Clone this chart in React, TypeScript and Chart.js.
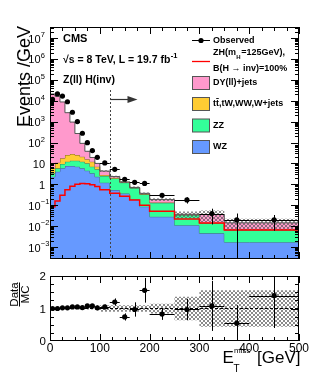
import React, { useEffect, useRef } from "react";
import { Chart, registerables } from "chart.js";
Chart.register(...registerables);

// ---------------- data ----------------
const binEdges = [0, 10, 20, 30, 40, 50, 60, 70, 80, 90, 100, 120, 140, 160, 180, 200, 250, 300, 350, 400, 500];
const wzValues = [0.78, 2.3, 4.0, 5.8, 7.5, 7.5, 7.0, 5.8, 4.5, 3.35, 2.3, 1.2, 0.53, 0.36, 0.19, 0.085, 0.028, 0.011, 0.0045, 0.0017];
const zzValues = [0.34, 1.05, 1.8, 3.6, 4.6, 6.0, 6.5, 6.3, 5.6, 3.65, 2.9, 1.3, 1.37, 0.84, 0.47, 0.245, 0.102, 0.023, 0.0095, 0.0048];
const topValues = [0.83, 2.45, 5.1, 8.1, 12.9, 14.5, 11.5, 8.9, 5.6, 5.1, 1.8, 0.3, 0.15, 0.05, 0.03, 0.015, 0.005, 0.001, 0.0005, 0.0003];
const dyValues = [11498, 20994, 16389, 8683, 2645, 922, 245, 70, 22.3, 7.1, 3.0, 1.5, 0.31, 0.04, 0.02, 0.025, 0.051, 0.002, 0.0215, 0.0075];
const signalValues = [0.03, 0.085, 0.16, 0.3, 0.55, 0.8, 1.0, 1.1, 1.05, 0.95, 0.78, 0.55, 0.37, 0.27, 0.18, 0.10, 0.052, 0.022, 0.014, 0.0065];
const observedValues = [11500, 21000, 16700, 8900, 2800, 1000, 277, 98, 41, 19.6, 10.5, 5.2, 1.75, 1.25, 1.1, 0.3, 0.18, 0.04, 0.02, 0.02];
const observedErrors = [34, 46, 41, 30, 17, 10, 5.3, 3.1, 2.0, 1.4, 0.72, 0.51, 0.3, 0.25, 0.23, 0.077, 0.06, 0.028, 0.02, 0.014];
const ratioValues = [1.0, 1.0, 1.02, 1.02, 1.05, 1.05, 1.03, 1.08, 1.08, 1.02, 1.05, 1.2, 0.74, 0.97, 1.56, 0.83, 0.97, 1.08, 0.55, 1.4];
const ratioErrors = [0.01, 0.01, 0.01, 0.01, 0.01, 0.01, 0.02, 0.03, 0.05, 0.07, 0.07, 0.11, 0.11, 0.22, 0.38, 0.18, 0.33, 0.77, 0.55, 1.0];
const mcRelUncertainty = [0.01, 0.01, 0.01, 0.01, 0.01, 0.01, 0.02, 0.02, 0.03, 0.03, 0.05, 0.1, 0.1, 0.1, 0.1, 0.1, 0.15, 0.36, 0.56, 0.56];
const yDecades = [-3, -2, -1, 0, 1, 2, 3, 4, 5, 6, 7];
const xTickLabels = [0, 100, 200, 300, 400, 500];
const ratioTickLabels = [0, 1, 2];
const selectionCut = 120;

// ---------------- style ----------------
const FONT = '"Liberation Sans", Arial, Helvetica, sans-serif';
const WZ_COLOR = "#6699ff";
const ZZ_COLOR = "#33ff99";
const TOP_COLOR = "#ffcc33";
const DY_COLOR = "#ff99cc";
const WZ_LINE = "#46608f";
const ZZ_LINE = "#3f7a5e";
const TOP_LINE = "#8a6d2a";
const DY_LINE = "#555555";

const nBins = binEdges.length - 1;
const binCenters = binEdges.slice(0, nBins).map((e, i) => (e + binEdges[i + 1]) / 2);

function cumulative(arrs: number[][]) {
  return arrs[0].map((_, i) => arrs.reduce((s, a) => s + a[i], 0));
}
function stepPoints(values: number[]) {
  const pts = values.map((v, i) => ({ x: binEdges[i], y: v }));
  pts.push({ x: binEdges[nBins], y: values[nBins - 1] });
  return pts;
}

const cumWZ = wzValues;
const cumZZ = cumulative([wzValues, zzValues]);
const cumTop = cumulative([wzValues, zzValues, topValues]);
const cumTotal = cumulative([wzValues, zzValues, topValues, dyValues]);
const bandHi = cumTotal.map((t, i) => t * (1 + mcRelUncertainty[i]));
const bandLo = cumTotal.map((t, i) => t * (1 - mcRelUncertainty[i]));
const ratioBandHi = mcRelUncertainty.map((u) => 1 + u);
const ratioBandLo = mcRelUncertainty.map((u) => 1 - u);

function makeHatch(): CanvasPattern | string {
  const c = document.createElement("canvas");
  c.width = 4;
  c.height = 4;
  const g = c.getContext("2d");
  if (!g) return "rgba(120,120,120,0.5)";
  g.fillStyle = "rgba(90,90,90,0.7)";
  const px = [[0, 0], [1, 1], [2, 2], [3, 3], [3, 0], [2, 1], [1, 2], [0, 3]];
  px.forEach(([x, y]) => g.fillRect(x, y, 1, 1));
  const p = g.createPattern(c, "repeat");
  return p || "rgba(120,120,120,0.5)";
}

function line(ctx: CanvasRenderingContext2D, x1: number, y1: number, x2: number, y2: number) {
  ctx.beginPath();
  ctx.moveTo(x1, y1);
  ctx.lineTo(x2, y2);
  ctx.stroke();
}

function drawFrameAndTicks(chart: any, yMajors: number[], yMinors: number[], yMajLen: number, yMinLen: number) {
  const { ctx, chartArea: a, scales } = chart;
  const xs = scales.x;
  const ys = scales.y;
  ctx.save();
  ctx.strokeStyle = "#000";
  ctx.lineWidth = 1;
  ctx.strokeRect(a.left + 0.5, a.top + 0.5, a.right - a.left - 1, a.bottom - a.top - 1);
  const yt = (vals: number[], len: number) => {
    vals.forEach((v) => {
      const py = Math.round(ys.getPixelForValue(v)) + 0.5;
      if (py < a.top || py > a.bottom) return;
      line(ctx, a.left, py, a.left + len, py);
      line(ctx, a.right, py, a.right - len, py);
    });
  };
  yt(yMajors, yMajLen);
  yt(yMinors, yMinLen);
  for (let v = 0; v <= 500; v += 25) {
    const px = Math.round(xs.getPixelForValue(v)) + 0.5;
    const len = v % 100 === 0 ? 7 : 4;
    line(ctx, px, a.bottom, px, a.bottom - len);
    line(ctx, px, a.top, px, a.top + len);
  }
  ctx.restore();
}

function errorBarPlugin(id: string, ys: number[], errs: number[]) {
  return {
    id,
    afterDatasetsDraw(chart: any) {
      const { ctx, chartArea: a, scales } = chart;
      const xs = scales.x;
      const ysc = scales.y;
      ctx.save();
      ctx.beginPath();
      ctx.rect(a.left, a.top, a.right - a.left, a.bottom - a.top);
      ctx.clip();
      ctx.strokeStyle = "#000";
      ctx.lineWidth = 1;
      const minV = ysc.min;
      for (let i = 0; i < ys.length; i++) {
        const px = xs.getPixelForValue(binCenters[i]);
        const py = ysc.getPixelForValue(ys[i]);
        const up = ysc.getPixelForValue(ys[i] + errs[i]);
        const lowV = ys[i] - errs[i];
        const low = lowV > minV ? ysc.getPixelForValue(lowV) : a.bottom + 2;
        const cx = Math.round(px) + 0.5;
        line(ctx, cx, up, cx, low);
        const x1 = xs.getPixelForValue(binEdges[i]);
        const x2 = xs.getPixelForValue(binEdges[i + 1]);
        const cy = Math.round(py) + 0.5;
        line(ctx, x1, cy, x2, cy);
      }
      ctx.restore();
    },
  };
}

function mainDecor() {
  return {
    id: "mainDecor",
    afterDraw(chart: any) {
      const { ctx, chartArea: a, scales } = chart;
      const ys = scales.y;
      const xs = scales.x;
      const minors: number[] = [];
      for (let d = -4; d <= 7; d++) for (let m = 2; m <= 9; m++) minors.push(m * Math.pow(10, d));
      drawFrameAndTicks(chart, yDecades.map((d) => Math.pow(10, d)), minors, 8, 4);

      ctx.save();
      ctx.fillStyle = "#000";
      // y tick labels
      yDecades.forEach((d) => {
        const py = ys.getPixelForValue(Math.pow(10, d));
        ctx.textBaseline = "middle";
        if (d === 0 || d === 1) {
          ctx.font = `11px ${FONT}`;
          ctx.textAlign = "right";
          ctx.fillText(d === 0 ? "1" : "10", 45, py + 1.5);
        } else {
          ctx.font = `11px ${FONT}`;
          ctx.textAlign = "right";
          ctx.fillText("10", 40.5, py + 1.5);
          ctx.font = `7.5px ${FONT}`;
          ctx.textAlign = "left";
          ctx.fillText(String(d).replace("-", "\u2212"), 40.8, py - 3);
        }
      });
      // y title
      ctx.save();
      ctx.translate(29.5, 26);
      ctx.rotate(-Math.PI / 2);
      ctx.font = `18px ${FONT}`;
      ctx.textAlign = "right";
      ctx.textBaseline = "alphabetic";
      ctx.fillText("Events /GeV", 0, 0);
      ctx.restore();

      // CMS labels
      ctx.textAlign = "left";
      ctx.textBaseline = "middle";
      ctx.font = `bold 11px ${FONT}`;
      ctx.fillText("CMS", 63, 39);
      ctx.font = `bold 10.5px ${FONT}`;
      const s1 = "\u221As = 8 TeV, L = 19.7 fb";
      ctx.fillText(s1, 63, 60);
      const w1 = ctx.measureText(s1).width;
      ctx.font = `bold 7.5px ${FONT}`;
      ctx.fillText("-1", 63 + w1 + 0.5, 55.5);
      ctx.font = `bold 10.5px ${FONT}`;
      ctx.fillText("Z(ll) H(inv)", 63, 80.5);

      // selection cut line + arrow
      const cx = Math.round(xs.getPixelForValue(selectionCut)) + 0.5;
      ctx.strokeStyle = "#444";
      ctx.lineWidth = 1;
      ctx.setLineDash([2, 2]);
      line(ctx, cx, 90, cx, a.bottom);
      ctx.setLineDash([]);
      ctx.strokeStyle = "#333";
      ctx.lineWidth = 1.2;
      line(ctx, cx, 99.5, cx + 19, 99.5);
      ctx.fillStyle = "#333";
      ctx.beginPath();
      ctx.moveTo(cx + 17, 96);
      ctx.lineTo(cx + 27, 99.5);
      ctx.lineTo(cx + 17, 103);
      ctx.closePath();
      ctx.fill();

      // legend
      const LF = `bold 9px ${FONT}`;
      ctx.fillStyle = "#000";
      const tx = 213;
      ctx.strokeStyle = "#000";
      ctx.lineWidth = 1;
      line(ctx, 192, 40.5, 210, 40.5);
      ctx.beginPath();
      ctx.arc(201, 40.5, 2.6, 0, Math.PI * 2);
      ctx.fill();
      ctx.font = LF;
      ctx.textBaseline = "middle";
      ctx.fillText("Observed", tx, 40.5);

      ctx.strokeStyle = "#ff0000";
      ctx.lineWidth = 1.3;
      line(ctx, 192, 61.5, 210, 61.5);
      ctx.font = LF;
      const zh = "ZH(m";
      ctx.fillText(zh, tx, 52.5);
      const wzh = ctx.measureText(zh).width;
      ctx.font = `bold 6px ${FONT}`;
      ctx.fillText("H", tx + wzh + 0.3, 57.5);
      const wh = ctx.measureText("H").width;
      ctx.font = LF;
      ctx.fillText("=125GeV),", tx + wzh + wh + 0.8, 52.5);
      ctx.fillText("B(H \u2192 inv)=100%", tx, 68.5);

      const boxes: [string, string, number][] = [
        [DY_COLOR, "DY(ll)+jets", 83],
        [TOP_COLOR, "", 104],
        [ZZ_COLOR, "ZZ", 125.5],
        [WZ_COLOR, "WZ", 147],
      ];
      boxes.forEach(([col, label, y]) => {
        ctx.fillStyle = col;
        ctx.fillRect(192, y - 6.5, 18, 13);
        ctx.strokeStyle = "#555";
        ctx.lineWidth = 1;
        ctx.strokeRect(192.5, y - 6.5, 17, 13);
        ctx.fillStyle = "#000";
        ctx.font = LF;
        if (label) ctx.fillText(label, tx, y);
      });
      // ttbar label with bar
      const yTop = 104;
      ctx.fillText("tt", tx, yTop);
      const wt = ctx.measureText("t").width;
      const wtt = ctx.measureText("tt").width;
      ctx.strokeStyle = "#000";
      ctx.lineWidth = 0.9;
      line(ctx, tx + wt + 0.2, yTop - 5.5, tx + wtt - 0.2, yTop - 5.5);
      ctx.fillText(",tW,WW,W+jets", tx + wtt, yTop);
      ctx.restore();
    },
  };
}

function ratioDecor() {
  return {
    id: "ratioDecor",
    afterDraw(chart: any) {
      const { ctx, scales } = chart;
      const ys = scales.y;
      const xs = scales.x;
      const minors: number[] = [];
      for (let v = 0.25; v < 2; v += 0.25) if (Math.abs(v - 1) > 0.01) minors.push(v);
      drawFrameAndTicks(chart, ratioTickLabels, minors, 8, 4);
      ctx.save();
      ctx.fillStyle = "#000";
      ctx.font = `11.5px ${FONT}`;
      ctx.textAlign = "right";
      ctx.textBaseline = "middle";
      ratioTickLabels.forEach((v) => {
        ctx.fillText(String(v), 46, ys.getPixelForValue(v) + 1);
      });
      ctx.font = `12px ${FONT}`;
      ctx.textAlign = "center";
      ctx.textBaseline = "alphabetic";
      xTickLabels.forEach((v) => {
        ctx.fillText(String(v), xs.getPixelForValue(v), 86.5);
      });
      // x title
      ctx.textAlign = "left";
      ctx.font = `17px ${FONT}`;
      ctx.fillText("E", 222.5, 98);
      ctx.font = `8px ${FONT}`;
      ctx.fillText("miss", 234, 88);
      ctx.font = `10px ${FONT}`;
      ctx.fillText("T", 233.5, 106.5);
      ctx.font = `17px ${FONT}`;
      ctx.fillText("[GeV]", 257, 98);
      // y title Data/MC
      ctx.save();
      ctx.translate(0, 29.5);
      ctx.rotate(-Math.PI / 2);
      ctx.font = `11.5px ${FONT}`;
      ctx.textAlign = "center";
      ctx.textBaseline = "alphabetic";
      ctx.fillText("Data", 0, 18);
      ctx.fillText("MC", 0, 28.5);
      ctx.strokeStyle = "#000";
      ctx.lineWidth = 1;
      line(ctx, -12, 19.5, 12, 19.5);
      ctx.restore();
      ctx.restore();
    },
  };
}

function stepDataset(label: string, values: number[], extra: any) {
  return {
    label,
    data: stepPoints(values),
    stepped: "after",
    pointRadius: 0,
    borderWidth: 1,
    ...extra,
  };
}

export default function App() {
  const mainRef = useRef<HTMLCanvasElement>(null);
  const ratioRef = useRef<HTMLCanvasElement>(null);

  useEffect(() => {
    const hatch = makeHatch();
    const common = {
      responsive: false,
      animation: false,
      devicePixelRatio: 1,
      plugins: { legend: { display: false }, tooltip: { enabled: false }, title: { display: false } },
      events: [],
    };
    const main = new Chart(mainRef.current as HTMLCanvasElement, {
      type: "line",
      data: {
        datasets: [
          stepDataset("WZ", cumWZ, { fill: "start", backgroundColor: WZ_COLOR, borderColor: WZ_LINE, order: 10 }),
          stepDataset("ZZ", cumZZ, { fill: 0, backgroundColor: ZZ_COLOR, borderColor: ZZ_LINE, order: 9 }),
          stepDataset("top", cumTop, { fill: 1, backgroundColor: TOP_COLOR, borderColor: TOP_LINE, order: 8 }),
          stepDataset("DY", cumTotal, { fill: 2, backgroundColor: DY_COLOR, borderColor: DY_LINE, order: 7 }),
          stepDataset("bandHi", bandHi, { fill: false, borderWidth: 0, borderColor: "rgba(0,0,0,0)", order: 6 }),
          stepDataset("bandLo", bandLo, { fill: 4, borderWidth: 0, borderColor: "rgba(0,0,0,0)", backgroundColor: hatch, order: 5 }),
          stepDataset("signal", signalValues, { fill: false, borderColor: "#ff0000", borderWidth: 1.5, order: 2 }),
          {
            label: "Observed",
            data: binCenters.map((x, i) => ({ x, y: observedValues[i] })),
            showLine: false,
            pointRadius: 2.6,
            pointBackgroundColor: "#000",
            pointBorderColor: "#000",
            pointBorderWidth: 0,
            order: 0,
          },
        ] as any,
      },
      options: {
        ...common,
        layout: { padding: { left: 50, right: 16, top: 27, bottom: 6 } },
        scales: {
          x: { type: "linear", min: 0, max: 500, display: false },
          y: { type: "logarithmic", min: 2.67e-4, max: 3.36e7, display: false },
        },
      } as any,
      plugins: [errorBarPlugin("mainErr", observedValues, observedErrors), mainDecor()],
    });

    const ratio = new Chart(ratioRef.current as HTMLCanvasElement, {
      type: "line",
      data: {
        datasets: [
          stepDataset("bandHi", ratioBandHi, { fill: false, borderWidth: 0, borderColor: "rgba(0,0,0,0)", order: 5 }),
          stepDataset("bandLo", ratioBandLo, { fill: 0, borderWidth: 0, borderColor: "rgba(0,0,0,0)", backgroundColor: hatch, order: 4 }),
          {
            label: "unity",
            data: [{ x: 0, y: 1 }, { x: 500, y: 1 }],
            borderColor: "#000",
            borderWidth: 1,
            borderDash: [3, 2],
            pointRadius: 0,
            fill: false,
            order: 3,
          },
          {
            label: "ratio",
            data: binCenters.map((x, i) => ({ x, y: ratioValues[i] })),
            showLine: false,
            pointRadius: 2.6,
            pointBackgroundColor: "#000",
            pointBorderColor: "#000",
            pointBorderWidth: 0,
            order: 0,
          },
        ] as any,
      },
      options: {
        ...common,
        layout: { padding: { left: 50, right: 16, top: 11, bottom: 37 } },
        scales: {
          x: { type: "linear", min: 0, max: 500, display: false },
          y: { type: "linear", min: 0, max: 2, display: false },
        },
      } as any,
      plugins: [errorBarPlugin("ratioErr", ratioValues, ratioErrors), ratioDecor()],
    });

    return () => {
      main.destroy();
      ratio.destroy();
    };
  }, []);

  return (
    <div style={{ position: "absolute", left: 0, top: 0, width: 315, height: 378, background: "#fff" }}>
      <canvas ref={mainRef} width={315} height={265} style={{ position: "absolute", left: 0, top: 0 }} />
      <canvas ref={ratioRef} width={315} height={113} style={{ position: "absolute", left: 0, top: 265 }} />
    </div>
  );
}
